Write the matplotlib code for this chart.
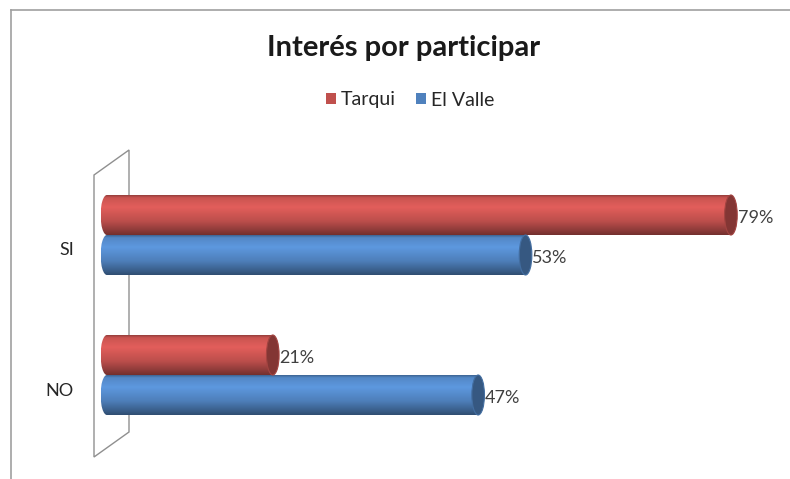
import numpy as np
import matplotlib.pyplot as plt
from matplotlib.patches import Ellipse, Rectangle, Polygon
from matplotlib.colors import to_rgb
from matplotlib.lines import Line2D
from matplotlib.transforms import ScaledTranslation

# data
categorias = ["SI", "NO"]
series = ["Tarqui", "El Valle"]
tarqui = [79, 21]
el_valle = [53, 47]
colores = ["#c0504d", "#4f81bd"]

plt.rcParams['font.family'] = ['Lato', 'DejaVu Sans']

W, H = 790, 479
fig = plt.figure(figsize=(W / 100, H / 100), dpi=100)
# about 7.9 px per percent, x=0 near pixel 107
ax = fig.add_axes([99 / W, (H - 460) / H, 688 / W, 310 / H])
ax.patch.set_visible(False)

alto = 40 / 140      # bar thickness in category units
cap = 1.6            # width of the cylinder end ellipse, in % units


def gradiente(color):
    base = np.array(to_rgb(color))
    t = np.linspace(0, 1, 80)
    k = np.interp(t, [0, 0.06, 0.3, 0.65, 0.9, 1], [0.78, 1.05, 1.18, 0.98, 0.72, 0.6])
    return np.clip(base[None, :] * k[:, None], 0, 1)[:, None, :]


def cilindro(y, v, color):
    img = gradiente(color)
    y0, y1 = y - alto / 2, y + alto / 2
    ax.imshow(img, extent=[0, v, y1, y0], origin='upper', aspect='auto',
              interpolation='bilinear', zorder=2)
    # rounded left end
    izq = Ellipse((0, y), cap, alto, facecolor='none', edgecolor='none')
    ax.add_patch(izq)
    im = ax.imshow(img, extent=[-cap / 2, cap / 2, y1, y0], origin='upper',
                   aspect='auto', interpolation='bilinear', zorder=2)
    im.set_clip_path(izq)
    # right end cap
    base = np.array(to_rgb(color))
    ax.add_patch(Ellipse((v, y), cap, alto, facecolor=base * 0.68,
                         edgecolor=base * 0.85, lw=0.8, zorder=3))
    ax.text(v + cap / 2 + 0.05, y + 0.02, f"{v}%", ha='left', va='center',
            fontsize=13, color='#404040', zorder=4)


for i, cat in enumerate(categorias):
    cilindro(i - alto / 2, tarqui[i], colores[0])
    cilindro(i + alto / 2, el_valle[i], colores[1])

ax.set_xlim(-1, 86.1)
ax.set_ylim(1 + 85 / 140, -85 / 140)
ax.set_xticks([])
ax.set_yticks(range(len(categorias)), categorias)
ax.tick_params(axis='y', length=0, pad=18, labelsize=13, labelcolor='#262626')
for lab in ax.get_yticklabels():
    lab.set_transform(lab.get_transform() + ScaledTranslation(0, -0.14, fig.dpi_scale_trans))
for s in ax.spines.values():
    s.set_visible(False)

# back wall of the 3D chart
pared = [(94, 175), (129, 150), (129, 432), (94, 457)]
fig.patches.append(Polygon([(x / W, 1 - y / H) for x, y in pared], closed=True,
                           transform=fig.transFigure, fill=False,
                           edgecolor='#8f8f8f', lw=1.0, zorder=-1))

# outer border
borde = '#a0a0a0'
fig.lines.append(Line2D([11 / W, 1], [1 - 10 / H, 1 - 10 / H], transform=fig.transFigure,
                        color=borde, lw=1.2))
fig.lines.append(Line2D([11 / W, 11 / W], [0, 1 - 10 / H], transform=fig.transFigure,
                        color=borde, lw=1.2))

fig.text(404 / W, 1 - 48 / H, "Interés por participar", ha='center', va='center',
         fontsize=21, fontweight='bold', color='#1a1a1a')

handles = [Rectangle((0, 0), 1, 1, facecolor=c) for c in colores]
fig.legend(handles, series, loc='center', bbox_to_anchor=(410 / W, 1 - 100 / H),
           ncol=2, frameon=False, fontsize=14, handlelength=0.55, handleheight=0.55,
           handletextpad=0.25, columnspacing=1.0, labelcolor='#262626')

fig.savefig("out.png", dpi=100)
